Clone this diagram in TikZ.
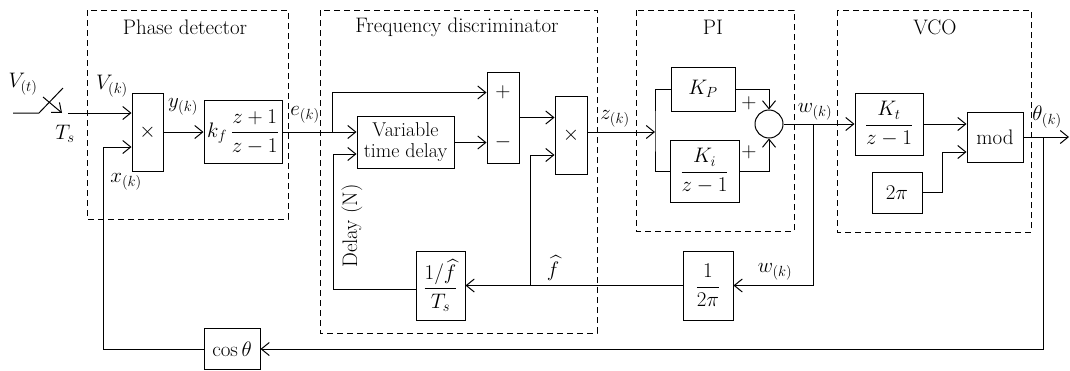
\RequirePackage{fix-cm}
\documentclass[tikz,border=0pt]{standalone}
\usepackage{amsmath}
\usepackage{fontspec}
\usetikzlibrary{arrows.meta,calc}
\begin{document}
\begin{tikzpicture}[x=1pt,y=-1pt,
  line width=1pt,
  >={Straight Barb[length=8pt,width=13pt,line width=1pt]},
  every node/.style={font=\fontsize{21}{25}\selectfont},
  blk/.style={draw,inner sep=0pt,minimum width=#1},
  grp/.style={draw,line width=1pt,dash pattern=on 6pt off 4pt},
  lbl/.style={inner sep=0pt}]
\useasboundingbox (0,0) rectangle (1070,370);
% group frames
\draw[grp] (87,10) rectangle (288,219);
\draw[grp] (320,10) rectangle (597,333);
\draw[grp] (636,10) rectangle (794,231);
\draw[grp] (837,10) rectangle (1031,232);
\node[lbl] (tpd) at (185,27) {Phase detector};
\node[lbl] (tfd) at (457,27) {Frequency discriminator};
\node[lbl] (tpi) at (713,27) {PI};
\node[lbl] (tvco) at (935,27) {VCO};
% blocks
\node[blk=31pt,minimum height=78pt] (mult1) at (147.5,132) {$\times$};
\node[blk=78pt,minimum height=63pt] (kf) at (243,132) {$k_f\,\dfrac{z+1}{z-1}$};
\node[blk=97pt,minimum height=52pt,align=center,font=\fontsize{20}{21}\selectfont] (vtd) at (405.5,142.5) {Variable\\time delay};
\node[blk=32pt,minimum height=91pt] (pm) at (503,117.5) {};
\node[lbl] (plus1) at (503,92.5) {$+$};
\node[lbl] (minus1) at (503,142.5) {$-$};
\node[blk=32pt,minimum height=78pt] (mult2) at (571,135) {$\times$};
\node[blk=64pt,minimum height=44pt] (kp) at (703,89) {$K_P$};
\node[blk=69pt,minimum height=62pt] (ki) at (704.5,171) {$\dfrac{K_i}{z-1}$};
\node[draw,circle,minimum size=28pt,inner sep=0pt] (sum) at (769,124) {};
\node[blk=68pt,minimum height=62pt] (kt) at (889,124) {$\dfrac{K_t}{z-1}$};
\node[blk=56pt,minimum height=50pt] (mod) at (995,137) {mod};
\node[blk=50pt,minimum height=41pt] (twopi) at (897,192.5) {$2\pi$};
\node[blk=49pt,minimum height=69pt] (finv) at (440.5,285.5) {$\dfrac{1/\widehat{f}}{T_s}$};
\node[blk=50pt,minimum height=69pt] (inv2pi) at (708,285.5) {$\dfrac{1}{2\pi}$};
\node[blk=56pt,minimum height=41pt] (cos) at (232,349) {$\cos\theta$};
% coordinates
\coordinate (in0) at (13,113);
\coordinate (sw1) at (39,113);
\coordinate (sw2) at (63,88);
\coordinate (sw3) at (43,97);
\coordinate (sw4) at (62,113);
\coordinate (sw5) at (68,113);
\coordinate (fbc) at (103,147);
\coordinate (eb) at (332,132);
\coordinate (dl) at (333,154);
\coordinate (fj) at (530,285.5);
\coordinate (fh) at (530,155);
\coordinate (zj) at (655,132);
\coordinate (wj) at (813,124);
\coordinate (tw) at (942,192.5);
\coordinate (thout) at (1069,137);
\coordinate (thj) at (1043,137);
\coordinate (thb) at (1043,349);
% connectors
\draw (in0) -- (sw1) -- (sw2);
\draw[->] (sw3) -- (sw4);
\draw[->] (sw5) -- (sw5 -| mult1.west);
\draw[->] (cos.west) -| (fbc) -- (fbc -| mult1.west);
\draw[->] (mult1.east) -- (kf.west);
\draw[->] (kf.east) -- (kf.east -| vtd.west);
\draw[->] (eb) |- (plus1 -| pm.west);
\draw[->] (vtd.east) -- (vtd.east -| pm.west);
\draw[->] ([yshift=-3.5pt]finv.west) -| (dl) -- (dl -| vtd.west);
\draw[->] (pm.east) -- (pm.east -| mult2.west);
\draw[->] (fj) -- (fh) -- (fh -| mult2.west);
\draw[->] (zj -| mult2.east) -- (zj);
\draw (kp.west) -| (zj) |- (ki.west);
\draw[->] (kp.east) -| (sum.north);
\draw[->] (ki.east) -| (sum.south);
\draw[->] (sum.east) -- (kt.west);
\draw[->] (wj) |- (inv2pi.east);
\draw[->] (inv2pi.west) -- (finv.east);
\draw[->] (kt.east) -- (kt.east -| mod.west);
\draw[->] (twopi.east) -- (tw) |- ([yshift=-15pt]mod.west);
\draw[->] (mod.east) -- (thout);
\draw[->] (thj) -- (thb) -- (cos.east);
% labels
\node[lbl] (lvt) at (23,84) {$V_{(t)}$};
\node[lbl] (lts) at (65,134) {$T_s$};
\node[lbl] (lvk) at (112,86) {$V_{(k)}$};
\node[lbl] (lxk) at (126,182) {$x_{(k)}$};
\node[lbl] (lyk) at (183,107) {$y_{(k)}$};
\node[lbl] (lek) at (305,115) {$e_{(k)}$};
\node[lbl] (lzk) at (615,119) {$z_{(k)}$};
\node[lbl] (lwk1) at (815,112) {$w_{(k)}$};
\node[lbl] (lwk2) at (775,272) {$w_{(k)}$};
\node[lbl] (lth) at (1047,117) {$\theta_{(k)}$};
\node[lbl] (lfh) at (553,268) {$\widehat{f}$};
\node[lbl] (lp1) at (749,103) {$+$};
\node[lbl] (lp2) at (749,152) {$+$};
\node[lbl,rotate=90] (ldel) at (352,226) {Delay (N)};
\end{tikzpicture}
\end{document}
